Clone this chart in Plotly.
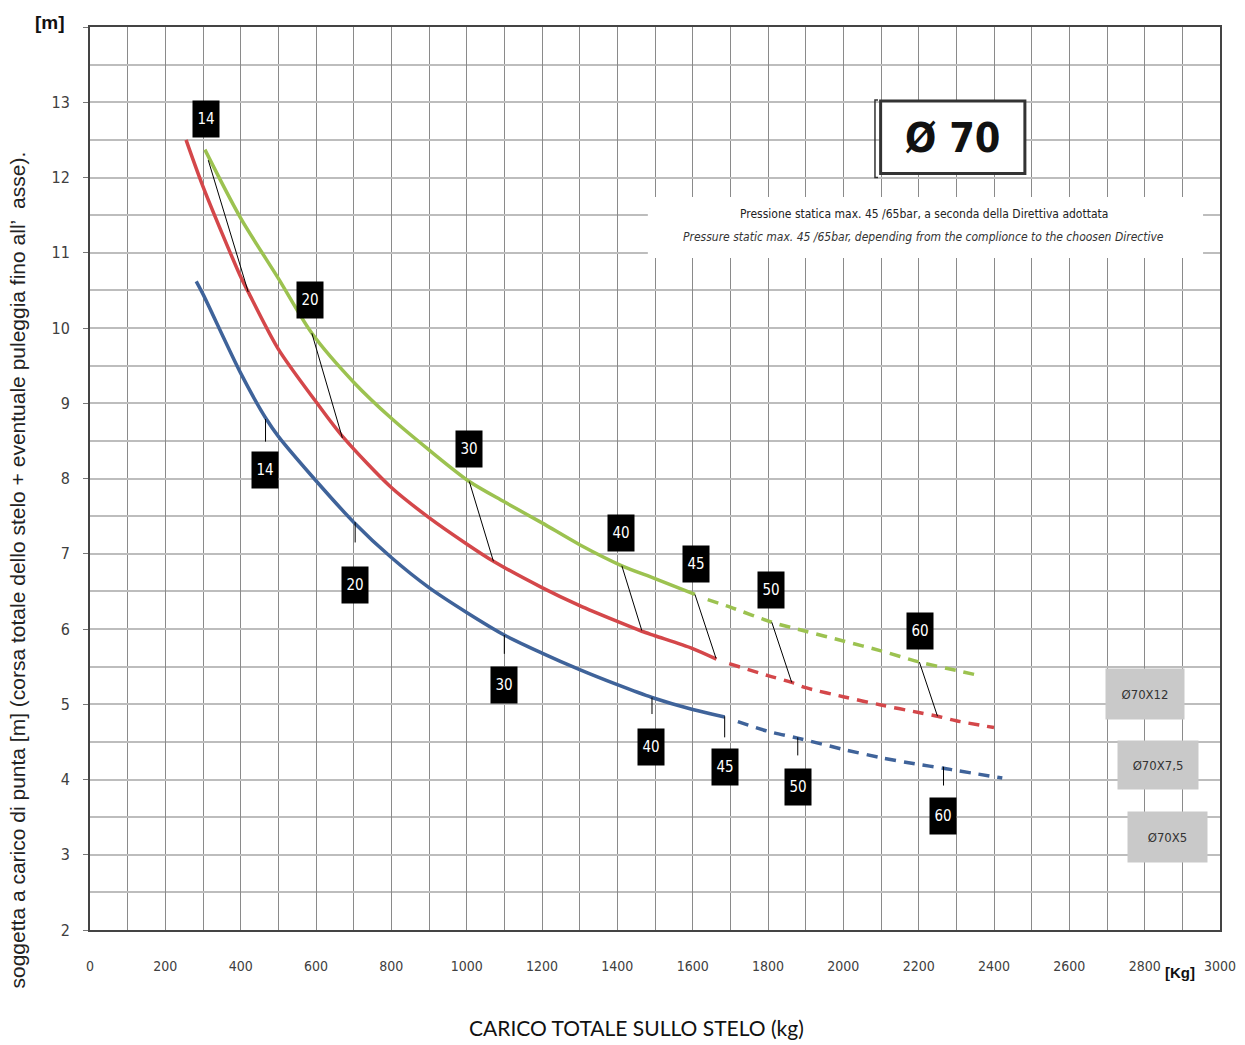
import plotly.graph_objects as go

# ---------------- data ----------------
# Ø70X5 (blue)
blue_solid_x = [282, 300, 400, 468, 500, 600, 700, 800, 900, 1000, 1100, 1200, 1300, 1400, 1492, 1600, 1685]
blue_solid_y = [10.62, 10.45, 9.40, 8.79, 8.56, 7.97, 7.42, 6.95, 6.55, 6.22, 5.92, 5.68, 5.46, 5.26, 5.09, 4.93, 4.83]
blue_dash_x = [1720, 1800, 1879, 2000, 2100, 2200, 2266, 2300, 2422]
blue_dash_y = [4.77, 4.64, 4.55, 4.40, 4.29, 4.20, 4.15, 4.12, 4.02]

# Ø70X7,5 (red)
red_solid_x = [255, 300, 400, 420, 500, 600, 672, 800, 900, 1000, 1071, 1200, 1300, 1400, 1465, 1500, 1600, 1663]
red_solid_y = [12.50, 11.88, 10.68, 10.48, 9.72, 9.02, 8.55, 7.88, 7.48, 7.13, 6.90, 6.55, 6.31, 6.10, 5.97, 5.91, 5.74, 5.60]
red_dash_x = [1697, 1800, 1863, 1900, 2000, 2100, 2200, 2250, 2300, 2400]
red_dash_y = [5.54, 5.38, 5.29, 5.22, 5.10, 4.99, 4.89, 4.84, 4.78, 4.69]

# Ø70X12 (green)
green_solid_x = [305, 400, 500, 589, 700, 800, 900, 1007, 1100, 1200, 1300, 1412, 1500, 1606]
green_solid_y = [12.37, 11.46, 10.66, 9.93, 9.28, 8.80, 8.38, 7.96, 7.69, 7.41, 7.12, 6.84, 6.67, 6.46]
green_dash_x = [1640, 1700, 1810, 1900, 2000, 2100, 2202, 2300, 2362]
green_dash_y = [6.39, 6.29, 6.09, 5.97, 5.84, 5.71, 5.56, 5.45, 5.38]

series_names = ["Ø70X12", "Ø70X7,5", "Ø70X5"]

x_tick_vals = list(range(0, 3001, 200))
y_tick_vals = list(range(2, 15))
y_tick_text = [str(v) for v in range(2, 14)] + [""]

# pressure labels (bar) and their annotation anchors
label_texts = ["14", "20", "30", "40", "45", "50", "60"]
green_label_pos = [(307, 12.78), (585, 10.37), (1006, 8.39), (1411, 7.27), (1610, 6.86), (1807, 6.52), (2203, 5.98)]
blue_label_pos = [(465, 8.11), (704, 6.59), (1100, 5.25), (1489, 4.43), (1685, 4.16), (1880, 3.90), (2265, 3.51)]
# leader lines: (x0, y0, x1, y1)
diag_leaders = [(314, 12.23, 420, 10.48), (589, 9.93, 670, 8.54), (1007, 7.96, 1071, 6.90),
                (1412, 6.84, 1465, 5.98), (1606, 6.46, 1662, 5.61), (1810, 6.09, 1863, 5.29),
                (2202, 5.56, 2250, 4.84)]
blue_ticks = [(466, 8.79, 8.49), (704, 7.42, 7.15), (1100, 5.92, 5.67), (1492, 5.09, 4.87),
              (1685, 4.84, 4.56), (1879, 4.56, 4.32), (2266, 4.17, 3.92)]

BLUE = "#3f639a"
RED = "#d4474a"
GREEN = "#9cc250"
NARROW = "DejaVu Sans Condensed, Liberation Sans Narrow, Roboto, sans-serif"

fig = go.Figure()


def add_curve(x, y, color, dash, name):
    fig.add_trace(go.Scatter(
        x=x, y=y, mode="lines", name=name, showlegend=False,
        line=dict(color=color, width=3.5, dash=dash, shape="spline", smoothing=0.8),
        hoverinfo="x+y"))


add_curve(blue_solid_x, blue_solid_y, BLUE, "solid", series_names[2])
add_curve(blue_dash_x, blue_dash_y, BLUE, "11px,8px", series_names[2])
add_curve(red_solid_x, red_solid_y, RED, "solid", series_names[1])
add_curve(red_dash_x, red_dash_y, RED, "11px,8px", series_names[1])
add_curve(green_solid_x, green_solid_y, GREEN, "solid", series_names[0])
add_curve(green_dash_x, green_dash_y, GREEN, "11px,8px", series_names[0])

shapes = []
for x0, y0, x1, y1 in diag_leaders:
    shapes.append(dict(type="line", x0=x0, y0=y0, x1=x1, y1=y1, xref="x", yref="y",
                       line=dict(color="black", width=1), layer="above"))
for xx, y0, y1 in blue_ticks:
    shapes.append(dict(type="line", x0=xx, y0=y0, x1=xx, y1=y1, xref="x", yref="y",
                       line=dict(color="black", width=1), layer="above"))

# white area behind the pressure note
shapes.append(dict(type="rect", x0=1481, x1=2955, y0=10.93, y1=11.74, xref="x", yref="y",
                   fillcolor="white", line=dict(width=0), layer="above"))
# title box
shapes.append(dict(type="rect", x0=2099, x1=2482, y0=12.054, y1=13.017, xref="x", yref="y",
                   fillcolor="white", line=dict(color="#333333", width=3), layer="above"))
# bracket at the left of the title box
shapes.append(dict(type="path", path="M 2092,13.03 L 2084,13.03 L 2084,12.0 L 2092,12.0",
                   xref="x", yref="y", line=dict(color="#333333", width=1.5), layer="above"))

annotations = []
for t, (xx, yy) in zip(label_texts, green_label_pos):
    annotations.append(dict(x=xx, y=yy, xref="x", yref="y", text=t, showarrow=False,
                            bgcolor="black", width=20, height=30, borderpad=3,
                            font=dict(family=NARROW, size=15, color="white")))
for t, (xx, yy) in zip(label_texts, blue_label_pos):
    annotations.append(dict(x=xx, y=yy, xref="x", yref="y", text=t, showarrow=False,
                            bgcolor="black", width=20, height=30, borderpad=3,
                            font=dict(family=NARROW, size=15, color="white")))

# legend-like grey boxes
legend_boxes = [(2801, 5.135, 78, 50), (2835, 4.194, 80, 48), (2860, 3.24, 79, 50)]
for name, (xx, yy, w, h) in zip(series_names, legend_boxes):
    annotations.append(dict(x=xx, y=yy, xref="x", yref="y", text=name, showarrow=False,
                            bgcolor="#c9c9c9", width=w, height=h, borderpad=0,
                            font=dict(family=NARROW, size=13, color="#333333")))

annotations.append(dict(x=2290, y=12.53, xref="x", yref="y", text="<b>Ø 70</b>", showarrow=False,
                        font=dict(family=NARROW, size=41, color="#111111")))
annotations.append(dict(x=2214, y=11.515, xref="x", yref="y",
                        text="Pressione statica max. 45 /65bar, a seconda della Direttiva adottata",
                        showarrow=False, font=dict(family=NARROW, size=12, color="#222222")))
annotations.append(dict(x=2214, y=11.21, xref="x", yref="y",
                        text="<i>Pressure static max. 45 /65bar, depending from the complionce to the choosen Directive</i>",
                        showarrow=False, font=dict(family=NARROW, size=12, color="#333333")))

annotations.append(dict(x=-0.0354, y=1.0055, xref="paper", yref="paper", xanchor="center", yanchor="middle",
                        text="<b>[m]</b>", showarrow=False,
                        font=dict(family="Liberation Sans, Arial", size=19, color="#111111")))
annotations.append(dict(x=0.9646, y=-0.0476, xref="paper", yref="paper", xanchor="center", yanchor="middle",
                        text="<b>[Kg]</b>", showarrow=False,
                        font=dict(family="Liberation Sans, Arial", size=15, color="#111111")))
annotations.append(dict(x=0.4832, y=-0.1085, xref="paper", yref="paper", xanchor="center", yanchor="middle",
                        text="CARICO TOTALE SULLO STELO (kg)", showarrow=False,
                        font=dict(family="Lato, Open Sans, sans-serif", size=21, color="#111111")))
annotations.append(dict(x=-0.0646, y=0.8638, xref="paper", yref="paper", xanchor="center", yanchor="top",
                        textangle=-90,
                        text="soggetta a carico di punta [m] (corsa totale dello stelo + eventuale puleggia fino all’ \u00a0asse).",
                        showarrow=False,
                        font=dict(family="Liberation Sans, Arial", size=21, color="#222222")))

# the page body adds an 8px offset; margins compensate so the plot area lands at px 90..1220 x 27..930
fig.update_layout(
    width=1245, height=1045,
    margin=dict(l=82, r=33, t=19, b=123),
    paper_bgcolor="white", plot_bgcolor="white",
    shapes=shapes, annotations=annotations,
    showlegend=False,
)
fig.update_xaxes(
    range=[0, 3000], tickvals=x_tick_vals, ticks="", ticklabelstandoff=22,
    tickfont=dict(family=NARROW, size=14, color="#404040"),
    showgrid=True, gridcolor="#8a8a8a", gridwidth=1,
    minor=dict(dtick=100, tick0=0, showgrid=True, gridcolor="#8a8a8a", gridwidth=1),
    showline=True, linecolor="#444444", linewidth=2, mirror=True, zeroline=False,
)
fig.update_yaxes(
    range=[2, 14], tickvals=y_tick_vals, ticktext=y_tick_text, ticks="outside", ticklen=5,
    tickcolor="#777777", ticklabelstandoff=10,
    tickfont=dict(family=NARROW, size=16, color="#404040"),
    showgrid=True, gridcolor="#bdbdbd", gridwidth=2,
    minor=dict(dtick=0.5, tick0=0, showgrid=True, gridcolor="#bdbdbd", gridwidth=2),
    showline=True, linecolor="#444444", linewidth=2, mirror=True, zeroline=False,
)

fig.write_html("out.html")
